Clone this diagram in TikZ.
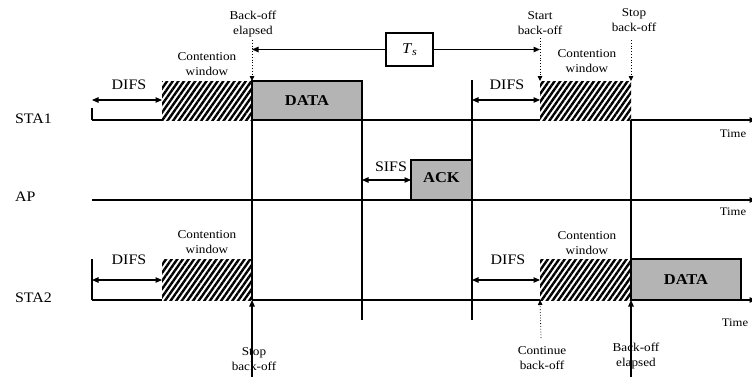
\documentclass[tikz,border=0pt]{standalone}
\usepackage{fontspec}
\setmainfont{Liberation Serif}[FakeStretch=1.1]
\usetikzlibrary{arrows.meta,patterns.meta}
\definecolor{boxgray}{RGB}{180,180,180}
\begin{document}
\begin{tikzpicture}[x=1pt,y=-1pt,
  every node/.style={inner sep=0pt,outer sep=0pt},
  base/.style={line width=1.1pt},
  tip/.style={base,-{Triangle[length=6.5pt,width=5.5pt]}},
  span/.style={base,{Triangle[length=6.5pt,width=5.5pt]}-{Triangle[length=6.5pt,width=5.5pt]}},
  cue/.style={line width=0.8pt,dotted,-{Triangle[length=5pt,width=4.5pt]}},
  hatch/.style={preaction={fill=white},pattern={Lines[angle=55,distance=4.6pt,line width=2.4pt]}},
  frame/.style={draw,base,fill=boxgray},
  lbl/.style={font=\fontsize{12}{15}\selectfont,align=center},
  big/.style={font=\fontsize{14.5}{16}\selectfont},
  small/.style={font=\fontsize{11.5}{13}\selectfont},
  tag/.style={font=\fontsize{15}{17}\selectfont\bfseries}
]
\useasboundingbox (0,0) rectangle (752,376);

% station names
\node[big,anchor=west] (sta1) at (15,119) {STA1};
\node[big,anchor=west] (ap)   at (15,197) {AP};
\node[big,anchor=west] (sta2) at (15,298) {STA2};

% frames and contention windows
\node[hatch,minimum width=90pt,minimum height=39pt,anchor=north west] (cw1) at (162,81) {};
\node[frame,minimum width=110pt,minimum height=39pt,anchor=north west] (data1) at (252,81) {};
\node[tag] at (data1.center) {DATA};
\node[hatch,minimum width=91pt,minimum height=39pt,anchor=north west] (cw2) at (540,81) {};
\node[frame,minimum width=61pt,minimum height=40pt,anchor=north west] (ack) at (411,160) {};
\node[tag] at ([yshift=2pt]ack.center) {ACK};
\node[hatch,minimum width=90pt,minimum height=41pt,anchor=north west] (cw3) at (162,259) {};
\node[hatch,minimum width=91pt,minimum height=41pt,anchor=north west] (cw4) at (540,259) {};
\node[frame,minimum width=110pt,minimum height=41pt,anchor=north west] (data2) at (631,259) {};
\node[tag] at (data2.center) {DATA};

% time axes
\coordinate (s1o) at (92,120);  \coordinate (s1e) at (756,120);
\coordinate (apo) at (92,200);  \coordinate (ape) at (756,200);
\coordinate (s2o) at (92,300);  \coordinate (s2e) at (756,300);
\draw[base] (s1o) -- (cw1.south west);
\draw[base] (data1.south east) -- (cw2.south west);
\draw[tip] (cw2.south east) -- (s1e);
\draw[tip] (apo) -- (ape);
\draw[base] (s2o) -- (cw3.south west);
\draw[base] (cw3.south east) -- (cw4.south west);
\draw[tip] (data2.south east) -- (s2e);
\node[small] (t1) at (733,134) {Time};
\node[small] (t2) at (733,212) {Time};
\node[small] (t3) at (735,323) {Time};

% DIFS brackets
\coordinate (b1) at (92,108);
\coordinate (b2) at (92,259);
\draw[base] (b1) -- (s1o);
\draw[base] (b2) -- (s2o);
\draw[span] (92,100) -- (162,100);
\draw[span] (472,100) -- (540,100);
\draw[span] (92,280) -- (162,280);
\draw[span] (472,280) -- (540,280);
\node[big] (d1) at (129,85) {DIFS};
\node[big] (d2) at (507,85) {DIFS};
\node[big] (d3) at (129,260) {DIFS};
\node[big] (d4) at (508,260) {DIFS};

% SIFS
\coordinate (sifsL) at (362,180);
\draw[span] (sifsL) -- (ack.west |- sifsL);
\node[big] (sifs) at (391,167) {SIFS};

% boundaries
\coordinate (v1b) at (252,378);
\coordinate (v1m) at (252,300);
\coordinate (v2b) at (362,320);
\coordinate (v3t) at (472,80);
\coordinate (v3b) at (472,320);
\coordinate (v4t) at (631,120);
\coordinate (v4m) at (631,300);
\coordinate (v4b) at (631,378);
\draw[base] (data1.north west) -- (v1m);
\draw[tip] (v1b) -- (v1m);
\draw[base] (data1.south east) -- (v2b);
\draw[base] (v3t) -- (v3b);
\draw[base] (v4t) -- (v4m);
\draw[tip] (v4b) -- (v4m);

% back-off markers
\coordinate (m1) at (252,40);
\coordinate (m2) at (540,38);
\coordinate (m3) at (631,40);
\coordinate (m4) at (541,338);
\draw[cue] (m1) -- (cw1.north east);
\draw[cue] (m2) -- (cw2.north west);
\draw[cue] (m3) -- (cw2.north east);
\draw[cue] (m4) -- (cw4.south west);

% transmission period
\node[draw,base,minimum width=47pt,minimum height=33pt,anchor=north west] (ts) at (386,33)
  {\fontsize{15}{17}\selectfont\textit{T}\raisebox{-1.5pt}{\fontsize{11}{12}\selectfont\textit{s}}};
\draw[tip] (ts.west) -- (ts.west -| m1);
\draw[tip] (ts.east) -- (ts.east -| m2);

% annotations
\node[lbl] (l1) at (253,24) {Back-off\\elapsed};
\node[lbl] (l2) at (540,23) {Start\\back-off};
\node[lbl] (l3) at (634,20) {Stop\\back-off};
\node[lbl] (l4) at (207,64) {Contention\\window};
\node[lbl] (l5) at (587,61) {Contention\\window};
\node[lbl] (l6) at (207,242) {Contention\\window};
\node[lbl] (l7) at (587,243) {Contention\\window};
\node[lbl] (l8) at (254,359) {Stop\\back-off};
\node[lbl] (l9) at (542,358) {Continue\\back-off};
\node[lbl] (l10) at (636,356) {Back-off\\elapsed};
\end{tikzpicture}
\end{document}
